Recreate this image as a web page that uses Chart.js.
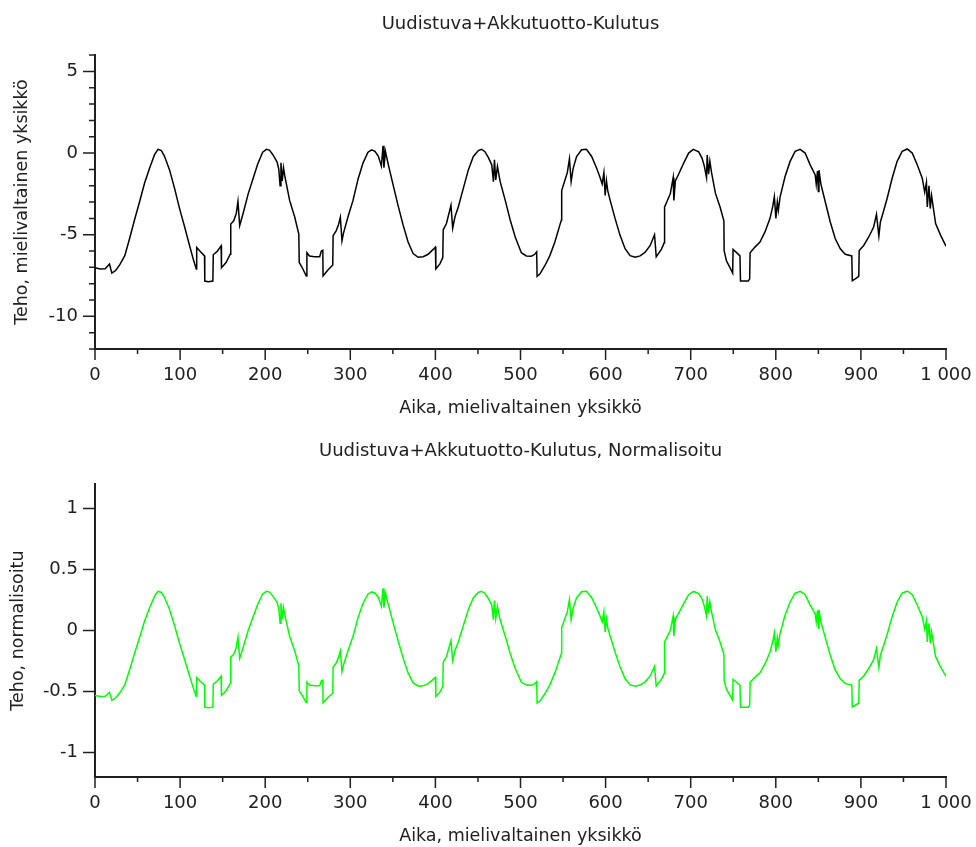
<!DOCTYPE html>
<html lang="fi">
<head>
  <meta charset="UTF-8">
  <title>Uudistuva+Akkutuotto-Kulutus</title>
  <script src="https://cdn.jsdelivr.net/npm/chart.js"></script>
  <style>
    body { margin: 0; background: #fff; }
    .kaavio { position: absolute; left: 0; width: 976px; }
    #ylempi { top: 0; height: 424px; }
    #alempi { top: 424px; height: 423px; }
  </style>
</head>
<body>

<!-- Teho, mielivaltainen yksikkö -->
<div class="kaavio" id="ylempi"><canvas id="tehoChart"></canvas></div>
<!-- Normalisoitu -->
<div class="kaavio" id="alempi"><canvas id="normChart"></canvas></div>

<script>
  // aika-akselin pisteet (luettu kuvasta)
  const aika = [
    0, 6, 12, 17, 19.8, 24, 29, 35, 40.6, 46.4,
    52.3, 58.2, 64.1, 70, 74, 78, 81.7, 87.6, 93.5, 99.4,
    105.2, 111.1, 116, 119, 119.5, 124, 128.7, 129, 133, 138.5,
    139, 144, 148.2, 148.6, 154, 158.9, 159.5, 163, 166, 168,
    170, 174, 180, 185.5, 191, 197, 201.5, 205, 209, 214,
    216, 217.5, 218.5, 220, 221.5, 223, 228.7, 234.6, 239.5, 240,
    244.3, 248.3, 249, 252, 258, 264, 266, 267.7, 268, 273.7,
    279.4, 279.8, 283.5, 286, 288.3, 290.2, 292, 297.3, 303.2, 309.1,
    315, 320.8, 325, 329, 333, 336.5, 338.5, 339.5, 341.3, 344.4,
    350.3, 356.1, 362, 367.9, 373.8, 379.7, 385.6, 391.5, 397.4, 400,
    400.5, 405.3, 408.7, 409.2, 413.1, 418.3, 420.3, 423, 426.9, 432.8,
    438.7, 444.6, 450.5, 454, 458, 462, 466.2, 468.2, 469.4, 470.9,
    472.9, 476.1, 482, 487.9, 493.8, 501, 506.9, 512.8, 516.8, 519,
    519.5, 522.7, 528.6, 534.5, 540.4, 546.3, 548.1, 548.4, 552, 555,
    557.5, 559.5, 561.8, 565.9, 571.8, 577.5, 583.6, 589.5, 593.5, 596,
    598, 599.5, 601, 602.5, 605.3, 611.1, 617, 622.9, 628.8, 634.7,
    640.6, 646.5, 652.4, 657.5, 659.5, 665.7, 668.8, 669.3, 672, 676,
    679.4, 680.2, 682, 685.8, 691.7, 697.6, 703, 709.4, 713.3, 716,
    718.6, 719.4, 721, 722.5, 724.5, 729.1, 734.5, 739, 739.3, 742,
    746, 749.3, 749.8, 753.9, 757.9, 758.5, 767.7, 769.3, 769.8, 775.5,
    781.4, 787.3, 793.2, 796.3, 798.3, 800.1, 801.8, 803, 805, 810.9,
    816.8, 822.7, 828.6, 834.5, 840.4, 846.3, 847.5, 849, 850, 850.7,
    853, 858.1, 864, 869.9, 875.8, 881.6, 889.3, 889.9, 893.4, 897.5,
    898, 903.3, 909.2, 915, 918.3, 921.1, 922.9, 926.9, 930.8, 936.7,
    942.6, 948.5, 954.4, 960.3, 966.2, 972.1, 975, 977, 978, 980,
    981.5, 983, 987.8, 993.7, 1000
  ];

  // Uudistuva+Akkutuotto-Kulutus
  const teho = [
    -7.02, -7.1, -7.08, -6.8, -7.35, -7.2, -6.85, -6.28, -5.25, -4.1,
    -3.0, -1.85, -0.93, -0.1, 0.23, 0.15, -0.2, -1.03, -2.16, -3.4,
    -4.5, -5.66, -6.6, -7.1, -5.78, -6.05, -6.3, -7.84, -7.88, -7.84,
    -6.23, -6.0, -5.68, -7.02, -6.7, -6.19, -4.35, -4.15, -3.7, -2.96,
    -4.44, -3.7, -2.5, -1.6, -0.7, 0.05, 0.23, 0.18, -0.1, -0.55,
    -1.0, -2.0, -0.6, -1.7, -0.9, -1.4, -2.9, -3.9, -4.96, -6.7,
    -7.1, -7.53, -6.1, -6.3, -6.35, -6.35, -6.0, -5.95, -7.53, -7.16,
    -6.85, -5.06, -4.75, -4.4, -3.93, -5.37, -4.9, -3.9, -2.9, -1.6,
    -0.6, 0.05, 0.2, 0.1, -0.2, -0.8, 0.45, -0.9, 0.1, -0.65,
    -1.95, -3.2, -4.4, -5.45, -6.15, -6.38, -6.35, -6.2, -5.9, -5.76,
    -7.1, -6.79, -6.4, -4.7, -4.3, -3.2, -4.6, -3.9, -3.3, -2.16,
    -1.03, -0.21, 0.15, 0.23, 0.1, -0.25, -0.72, -1.75, -0.41, -1.65,
    -0.82, -1.75, -2.88, -4.1, -5.14, -6.1, -6.3, -6.32, -6.2, -6.05,
    -7.55, -7.41, -6.9, -6.28, -5.45, -4.4, -4.1, -2.3, -1.7, -1.2,
    -0.35, -1.75, -0.95, -0.21, 0.2, 0.23, -0.21, -0.93, -1.5, -1.9,
    -1.2, -2.6, -1.7, -2.3, -2.88, -4.0, -5.04, -5.86, -6.28, -6.38,
    -6.3, -6.07, -5.66, -5.0, -6.36, -5.88, -5.5, -3.3, -2.98, -2.5,
    -1.5, -2.9, -1.7, -1.3, -0.62, 0.0, 0.23, 0.07, -0.31, -0.8,
    -1.5, -0.12, -1.3, -0.5, -1.2, -2.47, -3.3, -4.15, -5.97, -6.6,
    -7.0, -7.35, -5.9, -6.1, -6.3, -7.84, -7.84, -7.7, -6.1, -5.76,
    -5.45, -4.83, -4.0, -3.3, -2.67, -4.0, -3.0, -3.5, -2.7, -1.44,
    -0.51, 0.1, 0.23, 0.0, -0.72, -1.34, -1.9, -1.1, -2.35, -1.05,
    -1.9, -2.98, -4.22, -5.25, -5.86, -6.2, -6.3, -7.82, -7.7, -7.55,
    -5.97, -5.66, -5.14, -4.53, -3.75, -5.08, -4.22, -3.5, -2.78, -1.54,
    -0.51, 0.1, 0.25, 0.0, -0.72, -1.54, -2.4, -1.8, -3.3, -2.0,
    -3.4, -2.6, -4.32, -5.04, -5.7
  ];

  // Uudistuva+Akkutuotto-Kulutus, Normalisoitu
  const tehoNorm = [
    -0.532, -0.541, -0.539, -0.506, -0.571, -0.553, -0.512, -0.445, -0.324, -0.188,
    -0.059, 0.076, 0.185, 0.282, 0.321, 0.312, 0.271, 0.173, 0.040, -0.106,
    -0.235, -0.372, -0.482, -0.541, -0.386, -0.418, -0.447, -0.628, -0.633, -0.628,
    -0.439, -0.412, -0.374, -0.532, -0.494, -0.434, -0.218, -0.194, -0.141, -0.054,
    -0.228, -0.141, 0.0, 0.106, 0.212, 0.300, 0.321, 0.315, 0.282, 0.229,
    0.176, 0.059, 0.224, 0.094, 0.188, 0.129, -0.047, -0.165, -0.289, -0.494,
    -0.541, -0.592, -0.424, -0.447, -0.453, -0.453, -0.412, -0.406, -0.592, -0.548,
    -0.512, -0.301, -0.265, -0.224, -0.168, -0.338, -0.282, -0.165, -0.047, 0.106,
    0.224, 0.300, 0.318, 0.306, 0.271, 0.200, 0.347, 0.188, 0.306, 0.218,
    0.065, -0.082, -0.224, -0.347, -0.429, -0.456, -0.453, -0.435, -0.400, -0.384,
    -0.541, -0.505, -0.459, -0.259, -0.212, -0.082, -0.247, -0.165, -0.094, 0.040,
    0.173, 0.269, 0.312, 0.321, 0.306, 0.265, 0.209, 0.088, 0.246, 0.100,
    0.198, 0.088, -0.045, -0.188, -0.311, -0.424, -0.447, -0.449, -0.435, -0.418,
    -0.594, -0.578, -0.518, -0.445, -0.347, -0.224, -0.188, 0.024, 0.094, 0.153,
    0.253, 0.088, 0.182, 0.269, 0.318, 0.321, 0.269, 0.185, 0.118, 0.071,
    0.153, -0.012, 0.094, 0.024, -0.045, -0.176, -0.299, -0.395, -0.445, -0.456,
    -0.447, -0.420, -0.372, -0.294, -0.454, -0.398, -0.353, -0.094, -0.056, 0.0,
    0.118, -0.047, 0.094, 0.141, 0.221, 0.294, 0.321, 0.302, 0.258, 0.200,
    0.118, 0.280, 0.141, 0.235, 0.153, 0.004, -0.094, -0.194, -0.408, -0.482,
    -0.529, -0.571, -0.400, -0.424, -0.447, -0.628, -0.628, -0.612, -0.424, -0.384,
    -0.347, -0.274, -0.176, -0.094, -0.020, -0.176, -0.059, -0.118, -0.024, 0.125,
    0.234, 0.306, 0.321, 0.294, 0.209, 0.136, 0.071, 0.165, 0.018, 0.171,
    0.071, -0.056, -0.202, -0.324, -0.395, -0.435, -0.447, -0.626, -0.612, -0.594,
    -0.408, -0.372, -0.311, -0.239, -0.147, -0.304, -0.202, -0.118, -0.033, 0.113,
    0.234, 0.306, 0.324, 0.294, 0.209, 0.113, 0.012, 0.082, -0.094, 0.059,
    -0.106, -0.012, -0.214, -0.299, -0.376
  ];

  // akselien tikit
  const xTikit = [0, 100, 200, 300, 400, 500, 600, 700, 800, 900, 1000];
  const xTikkiTekstit = ['0', '100', '200', '300', '400', '500', '600', '700', '800', '900', '1 000'];
  const yTikitTeho = [-10, -5, 0, 5];
  const yTekstitTeho = ['-10', '-5', '0', '5'];
  const yTikitNorm = [-1, -0.5, 0, 0.5, 1];
  const yTekstitNorm = ['-1', '-0.5', '0', '0.5', '1'];

  const TEKSTI = '#202020';
  Chart.defaults.font.family = 'DejaVu Sans';
  Chart.defaults.font.size = 18;
  Chart.defaults.color = TEKSTI;

  // piirtää pitkät ja lyhyet tikit akselien ulkopuolelle
  const tikkiPiirto = {
    id: 'tikkiPiirto',
    afterDraw(chart, args, o) {
      const { ctx, scales: { x, y } } = chart;
      ctx.save();
      ctx.strokeStyle = TEKSTI;
      ctx.lineWidth = 1.5;
      ctx.beginPath();
      for (let v = x.min; v <= x.max; v += 50) {
        const px = x.getPixelForValue(v);
        const len = xTikit.includes(v) ? 11 : 5;
        ctx.moveTo(px, x.top);
        ctx.lineTo(px, x.top + len);
      }
      o.yIso.forEach(v => {
        const py = y.getPixelForValue(v);
        ctx.moveTo(y.right, py);
        ctx.lineTo(y.right - 12, py);
      });
      if (o.yPieni) {
        for (let v = y.min; v <= y.max; v += o.yPieni) {
          if (o.yIso.includes(v)) continue;
          const py = y.getPixelForValue(v);
          ctx.moveTo(y.right, py);
          ctx.lineTo(y.right - 6, py);
        }
      }
      ctx.stroke();
      ctx.restore();
    }
  };

  function teeKaavio(id, arvot, vari, otsikko, yOtsikko, yMin, yMax, yTikit, yTekstit, yPieni, tila) {
    const ctx = document.getElementById(id).getContext('2d');
    return new Chart(ctx, {
      type: 'line',
      data: {
        datasets: [{
          data: aika.map((x, i) => ({ x: x, y: arvot[i] })),
          borderColor: vari,
          borderWidth: 1.5,
          pointRadius: 0,
          tension: 0,
          fill: false
        }]
      },
      options: {
        animation: false,
        responsive: true,
        maintainAspectRatio: false,
        layout: { padding: { left: 0, right: 30, top: 0, bottom: 0 } },
        plugins: {
          legend: { display: false },
          tooltip: { enabled: false },
          title: {
            display: true,
            fullSize: false,
            text: otsikko,
            color: TEKSTI,
            font: { size: 18, weight: 'normal' },
            padding: { top: tila.otsikkoYlä, bottom: tila.otsikkoAla }
          },
          tikkiPiirto: { yIso: yTikit, yPieni: yPieni }
        },
        scales: {
          x: {
            type: 'linear',
            min: 0,
            max: 1000,
            afterBuildTicks: s => { s.ticks = xTikit.map(v => ({ value: v })); },
            afterFit: s => { s.height = tila.xKorkeus; s.paddingLeft = 0; s.paddingRight = 0; },
            ticks: {
              padding: 16,
              maxRotation: 0,
              autoSkip: false,
              callback: (v) => xTikkiTekstit[xTikit.indexOf(v)]
            },
            grid: { drawOnChartArea: false, drawTicks: false },
            border: { display: true, color: TEKSTI, width: 2 },
            title: {
              display: true,
              text: 'Aika, mielivaltainen yksikkö',
              font: { size: 17.5 },
              padding: { top: 0, bottom: tila.xOtsikkoAla }
            }
          },
          y: {
            min: yMin,
            max: yMax,
            afterBuildTicks: s => { s.ticks = yTikit.map(v => ({ value: v })); },
            afterFit: s => { s.width = 95; s.paddingTop = 0; s.paddingBottom = 0; },
            ticks: {
              padding: 17,
              autoSkip: false,
              callback: (v) => yTekstit[yTikit.indexOf(v)]
            },
            grid: { drawOnChartArea: false, drawTicks: false },
            border: { display: true, color: TEKSTI, width: 2 },
            title: {
              display: true,
              text: yOtsikko,
              font: { size: 17.5 },
              padding: { top: tila.yOtsikkoVasen, bottom: 0 }
            }
          }
        }
      },
      plugins: [tikkiPiirto]
    });
  }

  teeKaavio('tehoChart', teho, '#000000', 'Uudistuva+Akkutuotto-Kulutus',
    'Teho, mielivaltainen yksikkö', -12, 6, yTikitTeho, yTekstitTeho, 1,
    { otsikkoYlä: 14, otsikkoAla: 19.5, xKorkeus: 75, xOtsikkoAla: 5.5, yOtsikkoVasen: 11.5 });

  teeKaavio('normChart', tehoNorm, '#00ff00', 'Uudistuva+Akkutuotto-Kulutus, Normalisoitu',
    'Teho, normalisoitu', -1.2, 1.2, yTikitNorm, yTekstitNorm, 0,
    { otsikkoYlä: 17, otsikkoAla: 21.5, xKorkeus: 70, xOtsikkoAla: 0.5, yOtsikkoVasen: 8 });
</script>
</body>
</html>
